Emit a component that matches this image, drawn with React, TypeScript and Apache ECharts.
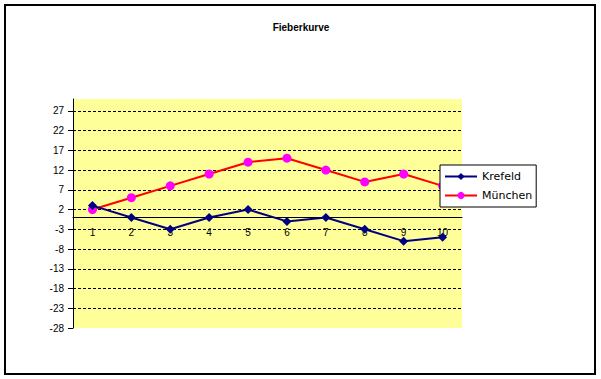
import React, { useEffect, useRef } from "react";
import * as echarts from "echarts";

const categories = ["1", "2", "3", "4", "5", "6", "7", "8", "9", "10"];
const krefeld = [3, 0, -3, 0, 2, -1, 0, -3, -6, -5];
const muenchen = [2, 5, 8, 11, 14, 15, 12, 9, 11, 8];
const yTicks = [-28, -23, -18, -13, -8, -3, 2, 7, 12, 17, 22, 27];

const Y_MIN = -28;
const Y_MAX = 30;
const GRID_TOP = 99;
const GRID_H = 229;

export default function App() {
  const ref = useRef<HTMLDivElement>(null);
  useEffect(() => {
    const chart = echarts.init(ref.current!, null, { renderer: "svg" });
    const zeroOffset = (GRID_H * Y_MAX) / (Y_MAX - Y_MIN) - GRID_H;
    chart.setOption({
      animation: false,
      backgroundColor: "#ffffff",
      title: {
        text: "Fieberkurve",
        left: 296,
        top: 17,
        textAlign: "center",
        textStyle: { fontFamily: "Liberation Sans", fontWeight: "bold", fontSize: 10, color: "#000" },
      },
      graphic: [
        {
          type: "rect",
          shape: { x: 5, y: 5, width: 590, height: 369 },
          style: { fill: "none", stroke: "#000", lineWidth: 2 },
          z: 100,
        },
      ],
      grid: {
        left: 73,
        top: GRID_TOP,
        width: 389,
        height: GRID_H,
        show: true,
        backgroundColor: "#FFFF99",
        borderWidth: 0,
      },
      legend: {
        orient: "vertical",
        left: 440,
        top: 165,
        backgroundColor: "#fff",
        borderColor: "#000",
        borderWidth: 1,
        borderRadius: 0,
        padding: [6, 4, 6, 4],
        itemGap: 8,
        itemWidth: 32,
        itemHeight: 9,
        textStyle: { fontFamily: "DejaVu Sans", fontSize: 11, color: "#000" },
        data: ["Krefeld", "München"],
        z: 10,
      },
      xAxis: {
        type: "category",
        data: categories,
        boundaryGap: true,
        position: "bottom",
        offset: zeroOffset,
        axisLine: { onZero: false, lineStyle: { color: "#000", width: 1 } },
        axisTick: { inside: true, length: 4, lineStyle: { color: "#000" } },
        axisLabel: { color: "#000", fontFamily: "Liberation Sans", fontSize: 10, margin: 10 },
        splitLine: { show: false },
      },
      yAxis: {
        type: "value",
        min: Y_MIN,
        max: Y_MAX,
        interval: 5,
        axisLine: { show: true, onZero: false, lineStyle: { color: "#000", width: 1 } },
        axisTick: { show: true, length: 5, lineStyle: { color: "#000" }, customValues: yTicks },
        axisLabel: {
          color: "#000",
          fontFamily: "Liberation Sans",
          fontSize: 10,
          margin: 9,
          customValues: yTicks,
        },
        splitLine: {
          show: true,
          showMaxLine: true,
          showMinLine: false,
          lineStyle: { color: "#000", type: [3, 2], width: 1 },
        },
      },
      series: [
        {
          name: "Krefeld",
          type: "line",
          data: krefeld,
          symbol: "diamond",
          symbolSize: 9,
          lineStyle: { color: "#000080", width: 2 },
          itemStyle: { color: "#000080" },
          z: 3,
        },
        {
          name: "München",
          type: "line",
          data: muenchen,
          symbol: "circle",
          symbolSize: 9,
          lineStyle: { color: "#FF0000", width: 2 },
          itemStyle: { color: "#FF00FF" },
          z: 2,
        },
      ],
    });
    return () => chart.dispose();
  }, []);
  return (
    <div
      ref={ref}
      style={{ position: "absolute", left: 0, top: 0, width: 601, height: 379 }}
    />
  );
}
